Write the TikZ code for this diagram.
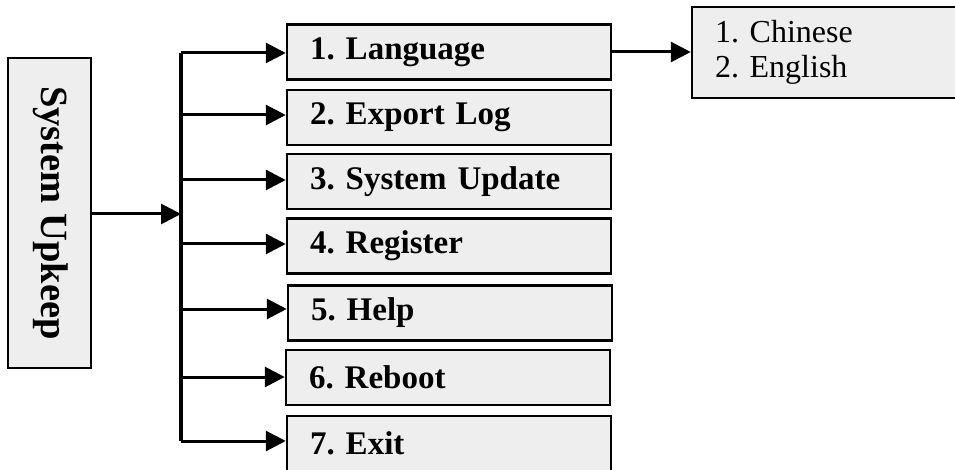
\documentclass[tikz,border=0pt]{standalone}
\usepackage{fontspec}
\setmainfont{Liberation Serif}
\usetikzlibrary{arrows.meta}
\frenchspacing
\begin{document}
\begin{tikzpicture}[x=1pt,y=-1pt,
  box/.style={draw=black,line width=2.5pt,fill=boxgray,rectangle,minimum width=324pt,minimum height=55pt,
    text width=278pt,inner xsep=23pt,align=left,font=\fontsize{33}{36}\selectfont\bfseries},
  arr/.style={line width=3pt,-{Triangle[length=20pt,width=20pt]}},
  ln/.style={line width=3.2pt}]
\definecolor{boxgray}{HTML}{EEEEEE}
\useasboundingbox (0,0) rectangle (955,470);
% main box
\node[draw=black,line width=2.5pt,fill=boxgray,minimum width=83pt,minimum height=310pt,inner sep=0pt] (m) at (49.5,213) {};
\node[rotate=-90,font=\fontsize{38.5}{42}\selectfont\bfseries,inner sep=0pt] (mt) at (51,213) {System Upkeep};
% item boxes
\node[box] (b1) at (449,52) {1. Language};
\node[box] (b2) at (449,117.5) {2. Export Log};
\node[box] (b3) at (449,181.5) {3. System Update};
\node[box] (b4) at (449,246) {4. Register};
\node[box] (b5) at (450,313) {5. Help};
\node[box] (b6) at (448,377.5) {6. Reboot};
\node[box] (b7) at (449,443.5) {7. Exit};
% submenu
\node[draw=black,line width=2.5pt,fill=boxgray,minimum width=272pt,minimum height=91pt,
  text width=226pt,inner xsep=23pt,align=left,font=\fontsize{32}{35}\selectfont] (s) at (828,52.5)
  {1. Chinese\\2. English};
% trunk
\coordinate (j0) at (181,214);
\coordinate (j1) at (181,53);
\coordinate (j2) at (181,115);
\coordinate (j3) at (181,180);
\coordinate (j4) at (181,244);
\coordinate (j5) at (181,309);
\coordinate (j6) at (181,377);
\coordinate (j7) at (181,441);
\draw[ln] (j1) -- (j7);
\draw[arr] (m.east |- j0) -- (j0);
\foreach \i in {1,...,7} {\draw[arr] (j\i) -- (j\i -| b\i.west);}
\draw[arr] (b1.east) -- (b1.east -| s.west);
\end{tikzpicture}
\end{document}
